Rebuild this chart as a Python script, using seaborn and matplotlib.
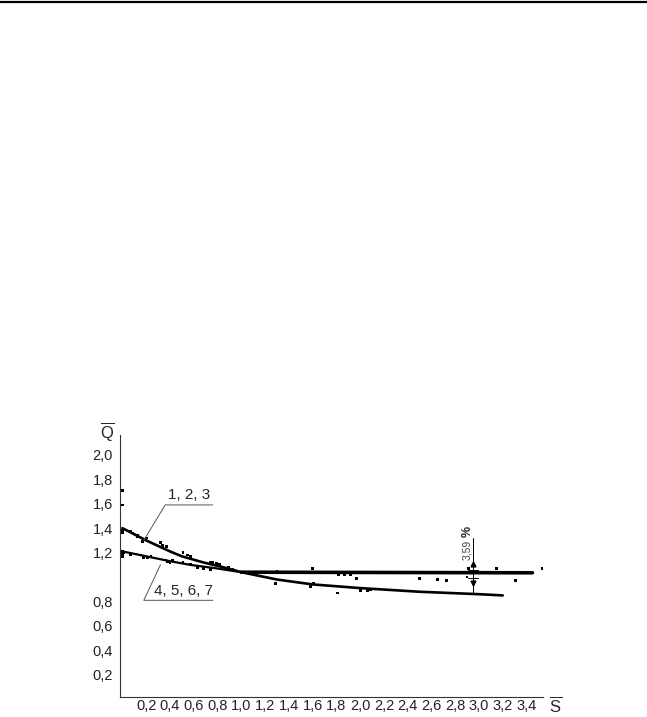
import numpy as np
import pandas as pd
import matplotlib
matplotlib.use('Agg')
import matplotlib.pyplot as plt
from matplotlib.lines import Line2D
import seaborn as sns

# fitted curves
curve1_s = [0.0, 0.2, 0.4, 0.5, 0.68, 0.85, 1.0, 1.3, 1.6, 2.0, 2.5, 3.0, 3.2]
curve1_q = [1.40, 1.30, 1.21, 1.17, 1.12, 1.08, 1.04, 0.98, 0.94, 0.91, 0.88, 0.86, 0.85]
curve2_s = [0.0, 0.2, 0.4, 0.57, 0.8, 1.0]
curve2_q = [1.21, 1.17, 1.13, 1.10, 1.07, 1.04]
flat_s = [1.0, 3.45]
flat_q = [1.04, 1.035]

# experimental points
pts1_s = [0.0, 0.0, 0.0, 0.0, 0.07, 0.09, 0.13, 0.13, 0.17, 0.20, 0.32, 0.34, 0.34, 0.37,
          0.51, 0.55, 0.57, 0.74, 0.76, 0.79, 0.82, 0.89,
          1.13, 1.29, 1.58, 1.61, 1.81, 2.00, 2.06, 2.09]
pts1_q = [1.71, 1.59, 1.38, 1.36, 1.37, 1.36, 1.34, 1.33, 1.29, 1.32, 1.28, 1.26, 1.25, 1.25,
          1.20, 1.18, 1.17, 1.12, 1.12, 1.11, 1.10, 1.08,
          1.02, 0.95, 0.92, 0.95, 0.87, 0.89, 0.89, 0.90]
pts2_s = [0.0, 0.0, 0.0, 0.01, 0.07, 0.15, 0.18, 0.21, 0.24, 0.36, 0.38, 0.40, 0.42,
          0.51, 0.57, 0.63, 0.68, 0.74, 0.93, 1.30, 1.60, 1.82, 1.87, 1.92, 1.97,
          2.50, 2.65, 2.73, 2.91, 2.90, 3.15, 3.31, 3.53]
pts2_q = [1.21, 1.19, 1.17, 1.20, 1.18, 1.18, 1.16, 1.16, 1.17, 1.14, 1.13, 1.12, 1.14,
          1.12, 1.10, 1.08, 1.07, 1.06, 1.06, 1.05, 1.07, 1.02, 1.02, 1.02, 0.99,
          0.99, 0.98, 0.97, 1.07, 1.00, 1.07, 0.97, 1.07]

x_ticks = [0.2, 0.4, 0.6, 0.8, 1.0, 1.2, 1.4, 1.6, 1.8, 2.0, 2.2, 2.4, 2.6, 2.8, 3.0, 3.2, 3.4]
y_ticks = [0.2, 0.4, 0.6, 0.8, 1.2, 1.4, 1.6, 1.8, 2.0]

sns.set_style('white')
plt.rcParams['font.family'] = ['Liberation Sans', 'DejaVu Sans']
plt.rcParams['mathtext.fontset'] = 'custom'
plt.rcParams['mathtext.rm'] = 'Liberation Sans'

fig = plt.figure(figsize = (6.47, 7.17), dpi = 100)
ax = fig.add_axes([0.1855, 0.028, 0.654, 0.365])

# points
pts = pd.DataFrame({'S': pts1_s + pts2_s, 'Q': pts1_q + pts2_q})
sns.scatterplot(data = pts, x = 'S', y = 'Q', ax = ax, marker = 's', s = 4,
                color = 'black', edgecolor = 'none', legend = False)

# curves
sns.lineplot(x = curve1_s, y = curve1_q, ax = ax, color = 'black', lw = 1.9)
sns.lineplot(x = curve2_s, y = curve2_q, ax = ax, color = 'black', lw = 1.6)
sns.lineplot(x = flat_s, y = flat_q, ax = ax, color = 'black', lw = 2.6)

# leader lines and labels
ax.plot([0.18, 0.36, 0.76], [1.30, 1.59, 1.59], color = '#555555', lw = 0.7)
ax.text(0.56, 1.61, '1, 2, 3', ha = 'center', va = 'bottom', fontsize = 11)
ax.plot([0.32, 0.18, 0.76], [1.10, 0.81, 0.81], color = '#555555', lw = 0.7)
ax.text(0.51, 0.83, '4, 5, 6, 7', ha = 'center', va = 'bottom', fontsize = 11)

# error bar 3,59 %
ax.plot([2.95, 2.95], [0.87, 1.32], color = 'black', lw = 0.7)
ax.plot([2.95], [1.11], marker = '^', ms = 3.5, color = 'black')
ax.plot([2.95], [0.955], marker = 'v', ms = 3.5, color = 'black')
ax.plot([2.91, 2.99], [1.06, 1.06], color = 'black', lw = 0.7)
ax.plot([2.91, 2.99], [0.99, 0.99], color = 'black', lw = 0.7)
ax.text(2.90, 1.22, '3,59', rotation = 90, ha = 'center', va = 'center',
        fontsize = 7.5, color = '#444444')
ax.text(2.905, 1.375, '%', rotation = 90, ha = 'center', va = 'center',
        fontsize = 9, fontweight = 'bold')

ax.set_xlim(-0.02, 3.54)
ax.set_ylim(0.02, 2.16)
ax.set_xticks(x_ticks)
ax.set_xticklabels([('%.1f' % t).replace('.', ',') for t in x_ticks])
ax.set_yticks(y_ticks)
ax.set_yticklabels([('%.1f' % t).replace('.', ',') for t in y_ticks])
ax.tick_params(axis = 'both', length = 0, labelsize = 10.5, colors = '#222222')
ax.tick_params(axis = 'x', pad = 1.5)
ax.tick_params(axis = 'y', pad = 5)
ax.set_xlabel('')
ax.set_ylabel('')
sns.despine(ax = ax)
for side in ['left', 'bottom']:
    ax.spines[side].set_color('#333333')
    ax.spines[side].set_linewidth(0.8)

fig.text(100 / 647, 1 - 432 / 717, r'$\overline{\mathrm{Q}}$', fontsize = 12,
         ha = 'left', va = 'center')
fig.text(549 / 647, 1 - 705 / 717, r'$\overline{\mathrm{S}}$', fontsize = 12,
         ha = 'left', va = 'center')

# page header rule
fig.add_artist(Line2D([0, 1], [1 - 2 / 717, 1 - 2 / 717], color = 'black', lw = 1.6))

fig.savefig('out.png', dpi = 100)
